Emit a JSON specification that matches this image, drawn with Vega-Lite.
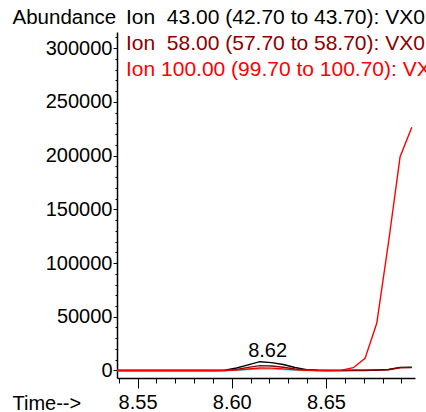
{
  "$schema": "https://vega.github.io/schema/vega-lite/v6.json",
  "width": 298,
  "height": 346,
  "autosize": {"type": "none"},
  "padding": {"left": 117, "top": 32, "right": 11, "bottom": 34},
  "background": "white",
  "config": {
    "view": {"stroke": null},
    "font": "Liberation Sans",
    "axis": {"labelFont": "Liberation Sans", "titleFont": "Liberation Sans", "labelColor": "black", "titleColor": "black", "tickColor": "black", "domainColor": "black", "grid": false}
  },
  "datasets": {
    "scans": [
      {"t": 8.5343, "ion": "x", "v": 0}, {"t": 8.5405, "ion": "x", "v": 0}, {"t": 8.5467, "ion": "x", "v": 0}, {"t": 8.5529, "ion": "x", "v": 0}, {"t": 8.5591, "ion": "x", "v": 0}, {"t": 8.5653, "ion": "x", "v": 0}, {"t": 8.5715, "ion": "x", "v": 0}, {"t": 8.5777, "ion": "x", "v": 0}, {"t": 8.5839, "ion": "x", "v": 0}, {"t": 8.5901, "ion": "x", "v": 0}, {"t": 8.5963, "ion": "x", "v": 0}, {"t": 8.6025, "ion": "x", "v": 200}, {"t": 8.6087, "ion": "x", "v": 800}, {"t": 8.6149, "ion": "x", "v": 1300}, {"t": 8.6211, "ion": "x", "v": 1300}, {"t": 8.6273, "ion": "x", "v": 900}, {"t": 8.6335, "ion": "x", "v": 300}, {"t": 8.6397, "ion": "x", "v": 0}, {"t": 8.6459, "ion": "x", "v": 0}, {"t": 8.6521, "ion": "x", "v": 0},
      {"t": 8.5343, "ion": "43", "v": 0}, {"t": 8.5405, "ion": "43", "v": 0}, {"t": 8.5467, "ion": "43", "v": 0}, {"t": 8.5529, "ion": "43", "v": 0}, {"t": 8.5591, "ion": "43", "v": 0}, {"t": 8.5653, "ion": "43", "v": 0}, {"t": 8.5715, "ion": "43", "v": 0}, {"t": 8.5777, "ion": "43", "v": 0}, {"t": 8.5839, "ion": "43", "v": 0}, {"t": 8.5901, "ion": "43", "v": 0}, {"t": 8.5963, "ion": "43", "v": 200}, {"t": 8.6025, "ion": "43", "v": 2300}, {"t": 8.6087, "ion": "43", "v": 5200}, {"t": 8.6149, "ion": "43", "v": 8200}, {"t": 8.6211, "ion": "43", "v": 7300}, {"t": 8.6273, "ion": "43", "v": 5600}, {"t": 8.6335, "ion": "43", "v": 2800}, {"t": 8.6397, "ion": "43", "v": 800}, {"t": 8.6459, "ion": "43", "v": 200}, {"t": 8.6521, "ion": "43", "v": 0}, {"t": 8.6583, "ion": "43", "v": 0}, {"t": 8.6645, "ion": "43", "v": 200}, {"t": 8.6707, "ion": "43", "v": 300}, {"t": 8.6769, "ion": "43", "v": 500}, {"t": 8.6831, "ion": "43", "v": 900}, {"t": 8.6893, "ion": "43", "v": 2900}, {"t": 8.6955, "ion": "43", "v": 3000},
      {"t": 8.5343, "ion": "58", "v": 0}, {"t": 8.5405, "ion": "58", "v": 0}, {"t": 8.5467, "ion": "58", "v": 0}, {"t": 8.5529, "ion": "58", "v": 0}, {"t": 8.5591, "ion": "58", "v": 0}, {"t": 8.5653, "ion": "58", "v": 0}, {"t": 8.5715, "ion": "58", "v": 0}, {"t": 8.5777, "ion": "58", "v": 0}, {"t": 8.5839, "ion": "58", "v": 0}, {"t": 8.5901, "ion": "58", "v": 0}, {"t": 8.5963, "ion": "58", "v": 0}, {"t": 8.6025, "ion": "58", "v": 900}, {"t": 8.6087, "ion": "58", "v": 2900}, {"t": 8.6149, "ion": "58", "v": 4500}, {"t": 8.6211, "ion": "58", "v": 4200}, {"t": 8.6273, "ion": "58", "v": 3000}, {"t": 8.6335, "ion": "58", "v": 1400}, {"t": 8.6397, "ion": "58", "v": 400}, {"t": 8.6459, "ion": "58", "v": 0}, {"t": 8.6521, "ion": "58", "v": 0}, {"t": 8.6583, "ion": "58", "v": 0}, {"t": 8.6645, "ion": "58", "v": 0}, {"t": 8.6707, "ion": "58", "v": 0}, {"t": 8.6769, "ion": "58", "v": 300}, {"t": 8.6831, "ion": "58", "v": 700}, {"t": 8.6893, "ion": "58", "v": 2500}, {"t": 8.6955, "ion": "58", "v": 2700},
      {"t": 8.5343, "ion": "100", "v": 0}, {"t": 8.5405, "ion": "100", "v": 0}, {"t": 8.5467, "ion": "100", "v": 0}, {"t": 8.5529, "ion": "100", "v": 0}, {"t": 8.5591, "ion": "100", "v": 0}, {"t": 8.5653, "ion": "100", "v": 0}, {"t": 8.5715, "ion": "100", "v": 0}, {"t": 8.5777, "ion": "100", "v": 0}, {"t": 8.5839, "ion": "100", "v": 0}, {"t": 8.5901, "ion": "100", "v": 0}, {"t": 8.5963, "ion": "100", "v": 0}, {"t": 8.6025, "ion": "100", "v": 400}, {"t": 8.6087, "ion": "100", "v": 1400}, {"t": 8.6149, "ion": "100", "v": 2300}, {"t": 8.6211, "ion": "100", "v": 2200}, {"t": 8.6273, "ion": "100", "v": 1500}, {"t": 8.6335, "ion": "100", "v": 600}, {"t": 8.6397, "ion": "100", "v": 100}, {"t": 8.6459, "ion": "100", "v": 0}, {"t": 8.6521, "ion": "100", "v": 0}, {"t": 8.6583, "ion": "100", "v": 300}, {"t": 8.6645, "ion": "100", "v": 2600}, {"t": 8.6707, "ion": "100", "v": 11300}, {"t": 8.6769, "ion": "100", "v": 43900}, {"t": 8.6831, "ion": "100", "v": 118600}, {"t": 8.6893, "ion": "100", "v": 198900}, {"t": 8.6955, "ion": "100", "v": 226200}
    ],
    "peaks": [{"t": 8.619, "v": 8200, "label": "8.62"}]
  },
  "resolve": {"axis": {"x": "independent", "y": "independent"}},
  "layer": [
    {
      "data": {"name": "scans"},
      "mark": {"type": "point", "opacity": 0},
      "encoding": {
        "x": {"field": "t", "type": "quantitative", "scale": {"domain": [8.5391, 8.6972], "nice": false, "zero": false},
          "axis": {"orient": "bottom", "values": [8.54, 8.55, 8.56, 8.57, 8.58, 8.59, 8.6, 8.61, 8.62, 8.63, 8.64, 8.65, 8.66, 8.67, 8.68, 8.69], "tickSize": 5, "labels": false, "domain": false, "title": null}},
        "y": {"field": "v", "type": "quantitative", "scale": {"domain": [-6980, 314900], "nice": false, "zero": false},
          "axis": {"orient": "left", "values": [0, 10000, 20000, 30000, 40000, 50000, 60000, 70000, 80000, 90000, 100000, 110000, 120000, 130000, 140000, 150000, 160000, 170000, 180000, 190000, 200000, 210000, 220000, 230000, 240000, 250000, 260000, 270000, 280000, 290000, 300000, 310000], "tickSize": 2, "labels": false, "domain": false, "title": null}}
      }
    },
    {
      "data": {"name": "scans"},
      "mark": {"type": "line", "clip": true, "strokeWidth": 1.4},
      "encoding": {
        "x": {"field": "t", "type": "quantitative",
          "axis": {"orient": "bottom", "values": [8.55, 8.6, 8.65], "format": ".2f", "tickSize": 10, "labelFontSize": 20, "labelPadding": 4, "domainWidth": 1.5,
            "title": "Time-->", "titleFontSize": 20, "titleFontWeight": "normal", "titleAnchor": "start", "titleAlign": "left", "titleBaseline": "middle", "titleX": -105, "titleY": 25}},
        "y": {"field": "v", "type": "quantitative",
          "axis": {"orient": "left", "values": [0, 50000, 100000, 150000, 200000, 250000, 300000], "format": "d", "tickSize": 4, "labelFontSize": 20, "labelPadding": 1, "domainWidth": 1.5,
            "title": "Abundance", "titleFontSize": 20.5, "titleFontWeight": "normal", "titleAngle": 0, "titleAnchor": "start", "titleAlign": "left", "titleBaseline": "middle", "titleX": -105, "titleY": -15}},
        "color": {"field": "ion", "type": "nominal",
          "scale": {"domain": ["43", "58", "100", "x"], "range": ["#000000", "#8b0000", "#ff0000", "#00ffff"]},
          "legend": {"orient": "none", "legendX": -12, "legendY": -25, "values": ["43", "58", "100"], "title": null, "padding": 0,
            "symbolSize": 0, "symbolStrokeWidth": 0, "labelOffset": 0, "labelFont": "Liberation Sans", "labelFontSize": 21, "labelLimit": 0, "rowPadding": 4,
            "labelExpr": "datum.value == '43' ? 'Ion \u00a043.00 (42.70 to 43.70): VX0' : datum.value == '58' ? 'Ion \u00a058.00 (57.70 to 58.70): VX0' : 'Ion 100.00 (99.70 to 100.70): VX0'",
            "encode": {"labels": {"update": {"fill": {"scale": "color", "field": "value"}}}}}
        }
      }
    },
    {
      "data": {"name": "peaks"},
      "mark": {"type": "text", "fontSize": 20, "font": "Liberation Sans", "color": "black", "baseline": "bottom", "dy": -1},
      "encoding": {
        "x": {"field": "t", "type": "quantitative", "axis": null},
        "y": {"field": "v", "type": "quantitative", "axis": null},
        "text": {"field": "label"}
      }
    }
  ]
}
